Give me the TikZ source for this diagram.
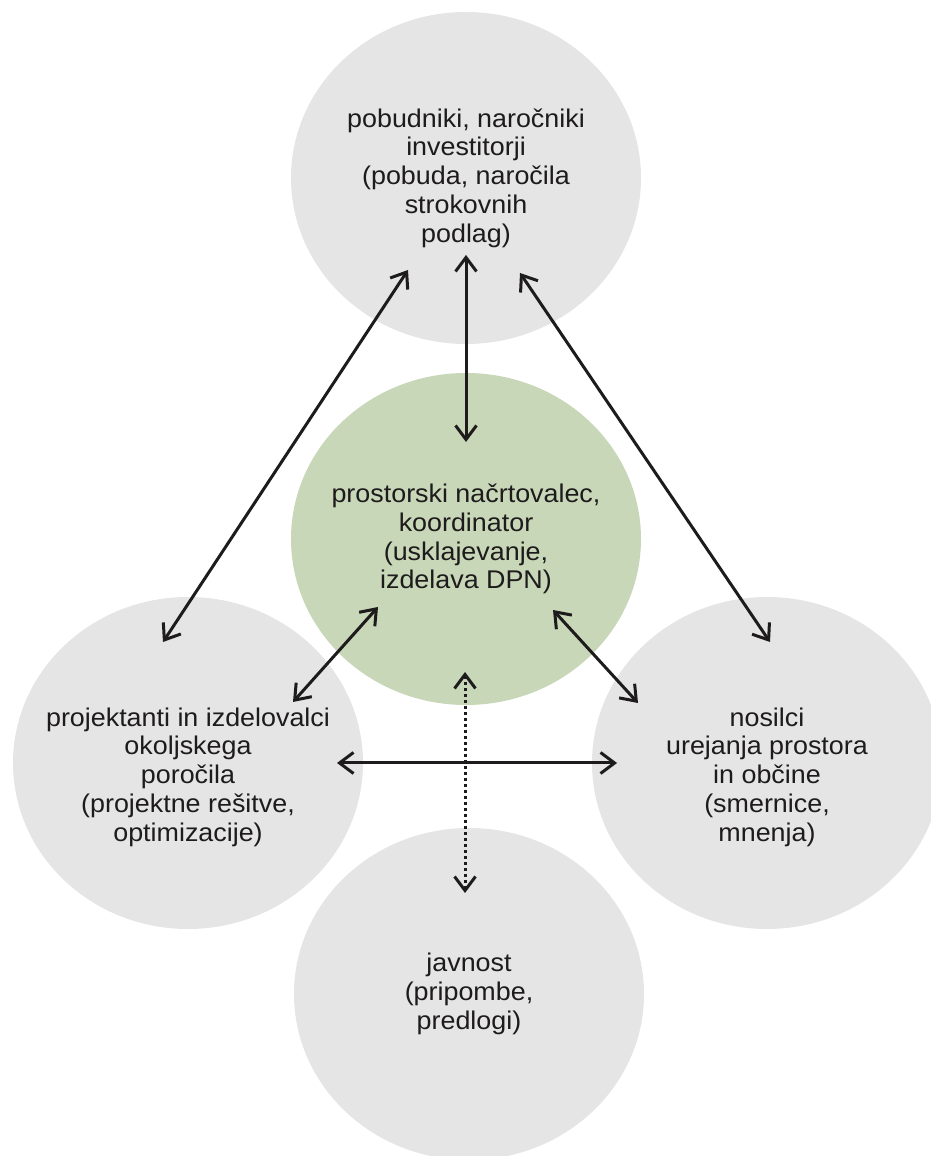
\documentclass[tikz,border=0pt]{standalone}
\usepackage{fontspec}
\setmainfont[FakeStretch=1.05]{Liberation Sans}
\usepackage{tikz}
\usetikzlibrary{shapes.geometric, arrows.meta, calc}
\definecolor{discgray}{RGB}{229, 229, 229}
\definecolor{plangreen}{RGB}{201, 215, 185}
\definecolor{inkblack}{RGB}{30, 27, 28}

\begin{document}
\begin{tikzpicture}[
    x=1pt, y=1pt,
    every node/.style={font=\fontsize{25.6}{28.7}\selectfont, text=inkblack},
    disc/.style={ellipse, fill=discgray, minimum width=350pt, minimum height=332pt, inner sep=0pt},
    txt/.style={align=center},
    link/.style={{Straight Barb[length=14pt, width=21pt]}-{Straight Barb[length=14pt, width=21pt]}, line width=3pt, draw=inkblack},
    dotlink/.style={link, dash pattern=on 3pt off 3pt}
]
\useasboundingbox (0,0) rectangle (930,1156);
% the five parties
\node[disc] (client) at (466,978) {};
\node[disc, fill=plangreen] (planner) at (466,617) {};
\node[disc] (designers) at (188,393) {};
\node[disc] (authorities) at (767,393) {};
\node[disc] (public) at (469,162) {};
\node[txt] (clientTxt) at (client) {pobudniki, naročniki\\investitorji\\(pobuda, naročila\\strokovnih\\podlag)};
\node[txt] (plannerTxt) at (planner) {prostorski načrtovalec,\\koordinator\\(usklajevanje,\\izdelava DPN)};
\node[txt] (designersTxt) at ([yshift=-14pt]designers) {projektanti in izdelovalci\\okoljskega\\poročila\\(projektne rešitve,\\optimizacije)};
\node[txt] (authoritiesTxt) at ([yshift=-14pt]authorities) {nosilci\\urejanja prostora\\in občine\\(smernice,\\mnenja)};
\node[txt] (publicTxt) at (public) {javnost\\(pripombe,\\predlogi)};
% links between them
\draw[link] ($(client)+(0,-77)$) -- ($(planner)+(0,97)$);
\draw[link] ($(client)+(-58,-92)$) -- ($(designers)+(-25,121)$);
\draw[link] ($(client)+(54,-95)$) -- ($(authorities)+(3,121)$);
\draw[link] ($(planner)+(-88,-68)$) -- ($(designers)+(105,61)$);
\draw[link] ($(planner)+(87,-71)$) -- ($(authorities)+(-129,60)$);
\draw[link] ($(designers)+(149,0)$) -- ($(authorities)+(-150,0)$);
\draw[dotlink] ($(planner)+(-1,-133)$) -- ($(public)+(-4,101)$);
\end{tikzpicture}
\end{document}
